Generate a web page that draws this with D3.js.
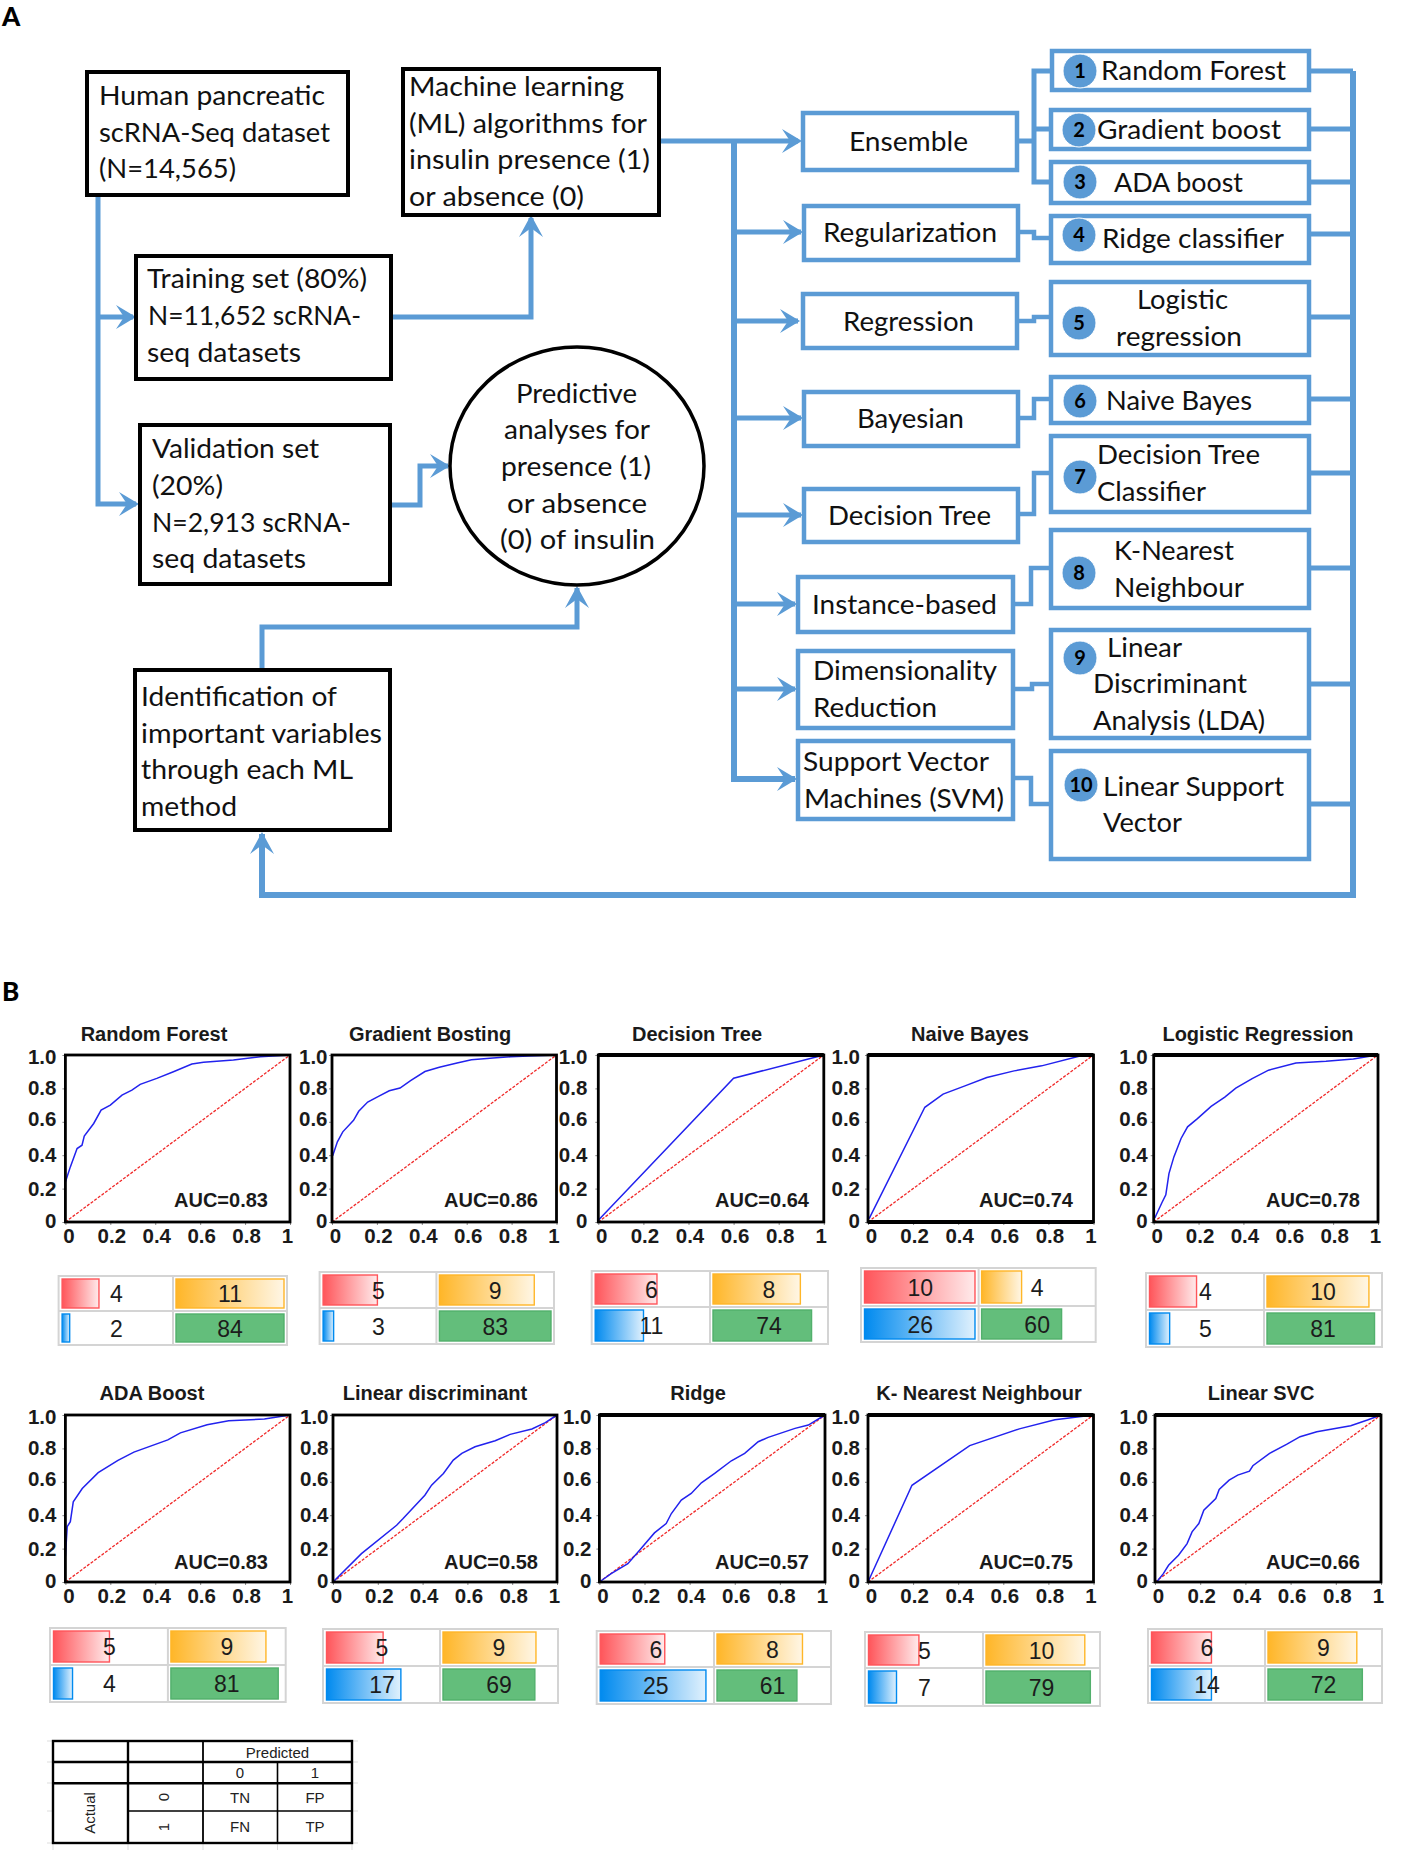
<!DOCTYPE html>
<html><head><meta charset="utf-8">
<style>html,body{margin:0;padding:0;background:#fff}svg{display:block}</style>
<script src="https://cdn.jsdelivr.net/npm/d3@7"></script></head>
<body><svg id="c" width="1418" height="1866"></svg>
<script>
// ---------- chart values ----------
const modelNames = ["Random Forest","Gradient Bosting","Decision Tree","Naive Bayes","Logistic Regression","ADA Boost","Linear discriminant","Ridge","K- Nearest Neighbour","Linear SVC"];
const aucValues = ["0.83","0.86","0.64","0.74","0.78","0.83","0.58","0.57","0.75","0.66"];
const axisXTicks = [0,0.2,0.4,0.6,0.8,1];
const axisYTicks = [0,0.2,0.4,0.6,0.8,1];
const rocRandomForest = [[0,.24],[.022,.33],[.052,.44],[.074,.46],[.084,.514],[.126,.59],[.159,.67],[.2,.7],[.252,.76],[.296,.79],[.333,.824],[.407,.86],[.481,.9],[.563,.946],[.615,.956],[.748,.97],[.867,.99],[1,1]];
const rocGradient = [[.003,.397],[.024,.48],[.048,.54],[.096,.609],[.119,.663],[.159,.718],[.207,.752],[.255,.786],[.303,.802],[.35,.847],[.414,.901],[.478,.927],[.557,.952],[.621,.972],[.717,.982],[.796,.99],[.876,.994],[1,1]];
const rocDecisionTree = [[0,.01],[.6,.861],[1,1]];
const rocNaiveBayes = [[.005,.02],[.252,.687],[.333,.766],[.43,.815],[.527,.865],[.648,.905],[.77,.935],[.94,.994],[1,1]];
const rocLogistic = [[.005,.024],[.037,.117],[.054,.163],[.068,.29],[.09,.39],[.122,.5],[.151,.57],[.195,.619],[.256,.692],[.317,.748],[.366,.802],[.439,.859],[.512,.909],[.634,.952],[.768,.962],[.89,.976],[.963,.992],[1,1]];
const rocAda = [[0,.153],[.008,.331],[.022,.361],[.035,.48],[.075,.56],[.146,.655],[.234,.728],[.305,.778],[.456,.851],[.512,.893],[.631,.942],[.727,.966],[.886,.976],[1,1]];
const rocLda = [[0,0],[.127,.17],[.284,.34],[.313,.38],[.41,.52],[.44,.58],[.493,.65],[.537,.73],[.575,.77],[.634,.81],[.724,.846],[.791,.884],[.888,.916],[.948,.954],[1,1]];
const rocRidge = [[0,0],[.052,.05],[.126,.11],[.178,.19],[.244,.294],[.296,.35],[.319,.41],[.363,.49],[.407,.53],[.452,.594],[.511,.65],[.585,.726],[.644,.77],[.704,.84],[.748,.866],[.867,.92],[.926,.94],[1,1]];
const rocKnn = [[0,0],[.195,.579],[.451,.817],[.671,.917],[.829,.972],[1,1]];
const rocSvc = [[.007,0],[.037,.05],[.06,.1],[.104,.16],[.142,.23],[.164,.3],[.194,.35],[.216,.43],[.269,.5],[.284,.554],[.328,.61],[.366,.64],[.418,.664],[.433,.696],[.507,.77],[.582,.824],[.642,.87],[.716,.9],[.866,.936],[.94,.97],[1,1]];
const rocCurves = [rocRandomForest,rocGradient,rocDecisionTree,rocNaiveBayes,rocLogistic,rocAda,rocLda,rocRidge,rocKnn,rocSvc];
const tnValues = [4,5,6,10,4,5,5,6,5,6];
const fpValues = [11,9,8,4,10,9,9,8,10,9];
const fnValues = [2,3,11,26,5,4,17,25,7,14];
const tpValues = [84,83,74,60,81,81,69,61,79,72];
// fill level of each data bar
const tnFill = [.34,.49,.55,.99,.42,.5,.51,.58,.45,.54];
const fpFill = [1,.85,.78,.36,.91,.85,.83,.77,.89,.80];
const fnFill = [.07,.095,.43,.99,.18,.17,.67,.95,.25,.54];
const tpFill = [1,1,.88,.72,.96,.96,.82,.72,.94,.85];

// ---------- layout ----------
const svg = d3.select("#c");
const BLUE="#5b9bd5", FLOW='Lato,"Noto Sans",sans-serif', ARIAL='"Liberation Sans",Arial,sans-serif';
const defs = svg.append("defs");
[["red","#ff555a"],["orange","#ffb628"],["blue","#008aef"]].forEach(([n,c])=>{
  const g=defs.append("linearGradient").attr("id","g-"+n);
  g.append("stop").attr("offset",0).attr("stop-color",c);
  g.append("stop").attr("offset",1).attr("stop-color",c).attr("stop-opacity",.12);
});
const flow = svg.append("g");
const blackBoxes=[[87,72,348,195],[403,69,659,215],[136,256,391,379],[140,425,390,584],[135,670,390,830]];
const blueBoxes=[[803,113,1017,170],[804,206,1018,260],[803,294,1017,348],[804,392,1018,446],[804,489,1018,542],[798,577,1013,632],[798,651,1013,728],[798,741,1013,819],
 [1052,51,1309,90],[1051,110,1309,149],[1051,162,1309,203],[1051,216,1309,263],[1051,282,1309,355],[1051,377,1309,423],[1051,436,1309,512],[1051,530,1309,608],[1051,630,1309,738],[1051,751,1309,859]];
const paths=[
 {p:[[98,195],[98,504],[136,504]],w:5},{p:[[98,317],[133,317]],w:5},
 {p:[[391,317],[531,317],[531,218]],w:5},{p:[[390,505],[420,505],[420,466],[448,466]],w:5},
 {p:[[262,670],[262,627],[577,627],[577,588]],w:5},
 {p:[[1353,71],[1353,895],[262,895],[262,834]],w:6},
 {p:[[659,141],[798,141]],w:5},{p:[[734,141],[734,779],[795,779]],w:6},
 {p:[[734,232],[801,232]],w:5},{p:[[734,321],[798,321]],w:5},{p:[[734,418],[801,418]],w:5},{p:[[734,515],[801,515]],w:5},{p:[[734,604],[795,604]],w:5},{p:[[734,689],[795,689]],w:5},
 {p:[[1017,141],[1034,141]],w:5},{p:[[1052,71],[1034,71],[1034,182],[1051,182]],w:5},{p:[[1034,129],[1051,129]],w:5},
 {p:[[1018,232],[1034,232],[1034,238],[1051,238]],w:4.5},{p:[[1017,321],[1034,321],[1034,317],[1051,317]],w:4.5},
 {p:[[1018,418],[1034,418],[1034,399],[1051,399]],w:4.5},{p:[[1018,514],[1034,514],[1034,473],[1051,473]],w:4.5},
 {p:[[1013,604],[1031,604],[1031,568],[1051,568]],w:4.5},{p:[[1013,689],[1032,689],[1032,684],[1051,684]],w:4.5},{p:[[1013,778],[1031,778],[1031,804],[1051,804]],w:4.5}
];
[71,129,182,234,317,399,473,568,684,804].forEach(y=>paths.push({p:[[1309,y],[1353,y]],w:5}));
paths.forEach(d=>flow.append("path").attr("d",d3.line()(d.p)).attr("fill","none").attr("stroke",BLUE).attr("stroke-width",d.w).attr("stroke-linejoin","miter"));
// arrow heads: [tipX, tipY, direction]
[[136,317,"r"],[139,504,"r"],[531,215,"u"],[450,466,"r"],[577,586,"u"],[262,832,"u"],[802,141,"r"],[803,232,"r"],[800,321,"r"],[803,418,"r"],[803,515,"r"],[797,604,"r"],[797,689,"r"],[797,779,"r"]]
 .forEach(([x,y,d])=>{
   const pts=d==="r"?[[x,y],[x-20,y-12],[x-12,y],[x-20,y+12]]:[[x,y],[x-12,y+22],[x,y+13],[x+12,y+22]];
   flow.append("polygon").attr("points",pts.join(" ")).attr("fill",BLUE);
 });
const rect=(sel,b,stroke,w)=>sel.append("rect").attr("x",b[0]).attr("y",b[1]).attr("width",b[2]-b[0]).attr("height",b[3]-b[1]).attr("fill","#fff").attr("stroke",stroke).attr("stroke-width",w);
blackBoxes.forEach(b=>rect(flow,b,"#000",4));
blueBoxes.forEach(b=>rect(flow,b,BLUE,4.5));
flow.append("ellipse").attr("cx",577).attr("cy",466).attr("rx",127).attr("ry",119).attr("fill","#fff").attr("stroke","#000").attr("stroke-width",3.5);
// badges
[[1080,71],[1079,130],[1080,182],[1079,235],[1079,323],[1080,401],[1080,477],[1079,573],[1080,658],[1081,785]].forEach(([x,y],i)=>{
  flow.append("ellipse").attr("cx",x).attr("cy",y).attr("rx",17).attr("ry",17).attr("fill",BLUE).attr("stroke","#fff").attr("stroke-width",1);
  flow.append("text").attr("x",x).attr("y",y+7).attr("text-anchor","middle").attr("font-family",FLOW).attr("font-weight",700).attr("font-size",20).attr("fill","#000").text(i+1);
});
// flow text lines: [string, left x, baseline y, measured width]
const flowText=[
 ["Human pancreatic",99,105,226],["scRNA-Seq dataset",99,142,231],["(N=14,565)",99,178,137],
 ["Machine learning",409,96,215],["(ML) algorithms for",409,133,238],["insulin presence (1)",409,169,241],["or absence (0)",409,206,175],
 ["Training set (80%)",147,288,220],["N=11,652 scRNA-",148,325,213],["seq datasets",147,362,154],
 ["Validation set",152,458,167],["(20%)",152,495,71],["N=2,913 scRNA-",152,532,199],["seq datasets",152,568,154],
 ["Predictive",516,403,121],["analyses for",504,439,146],["presence (1)",501,476,150],["or absence",507,513,140],["(0) of insulin",500,549,155],
 ["Identification of",141,706,196],["important variables",141,743,241],["through each ML",141,779,212],["method",141,816,96],
 ["Ensemble",849,151,119],["Regularization",823,242,174],["Regression",843,331,131],["Bayesian",857,428,107],["Decision Tree",828,525,163],["Instance-based",812,614,185],
 ["Dimensionality",813,680,184],["Reduction",813,717,124],["Support Vector",803,771,186],["Machines (SVM)",804,808,200],
 ["Random Forest",1101,80,185],["Gradient boost",1097,139,184],["ADA boost",1114,192,129],["Ridge classifier",1102,248,182],["Logistic",1137,309,91],["regression",1116,346,126],
 ["Naive Bayes",1106,410,146],["Decision Tree",1097,464,163],["Classifier",1097,501,109],["K-Nearest",1114,560,120],["Neighbour",1114,597,130],
 ["Linear",1107,657,75],["Discriminant",1093,693,154],["Analysis (LDA)",1093,730,172],["Linear Support",1103,796,181],["Vector",1103,832,79]
];
flow.selectAll("text.l").data(flowText).join("text").attr("class","l")
 .attr("x",d=>d[1]).attr("y",d=>d[2]).attr("textLength",d=>d[3]).attr("lengthAdjust","spacingAndGlyphs")
 .attr("font-family",FLOW).attr("font-size",26.5).attr("fill","#111").text(d=>d[0]);
[["A",2,26],["B",2,1001]].forEach(([t,x,y])=>svg.append("text").attr("x",x).attr("y",y).attr("font-family",FLOW).attr("font-weight",900).attr("font-size",26).attr("fill","#000").text(t));

// ---------- ROC panels ----------
const frames=[[65.4,290],[332,556.5],[598.3,823.8],[868,1093.5],[1153.7,1378],[65.4,290],[333,557],[599.4,825],[868,1093.5],[1155,1381]];
const yFrames=[[1055,1222],[1415,1582]];
const tickPad=[9,4.5,11,8,6,9,4.5,8,8,7];
const aucX=[174,444,715,979,1266,174,444,715,979,1266];
const titleX=[154,430,697,970,1258,152,435,698,979,1261];
const thickTop=[0,0,1,1,1,0,0,1,1,1];
const thickBottom=[0,0,0,1,0,0,0,0,0,0];
modelNames.forEach((name,i)=>{
  const row=i<5?0:1, [y1,y0]=yFrames[row], [x0,x1]=frames[i];
  const x=d3.scaleLinear().domain([0,1]).range([x0,x1]);
  const y=d3.scaleLinear().domain([0,1]).range([y0,y1]);
  const g=svg.append("g");
  g.append("text").attr("x",titleX[i]).attr("y",row?1400:1041).attr("text-anchor","middle").attr("font-family",ARIAL).attr("font-weight",700).attr("font-size",20).attr("fill","#1a1a1a").text(name);
  const styleAxis=a=>{a.select(".domain").remove();a.selectAll("line").attr("stroke","#888").attr("stroke-width",1);
    a.selectAll("text").attr("font-family",ARIAL).attr("font-weight",700).attr("font-size",20.5).attr("fill","#1a1a1a");};
  const ax=g.append("g").attr("transform",`translate(0,${y0})`).call(d3.axisBottom(x).tickValues(axisXTicks).tickSize(3).tickPadding(3).tickFormat(d=>d===0?"0":d===1?"1":d3.format(".1f")(d)));
  styleAxis(ax);
  ax.selectAll("text").attr("dx",d=>d===0?3:d===1?-3:1);
  const ay=g.append("g").attr("transform",`translate(${x0},0)`).call(d3.axisLeft(y).tickValues(axisYTicks).tickSize(3).tickPadding(tickPad[i]-3).tickFormat(d=>d===0?"0":d3.format(".1f")(d)));
  styleAxis(ay);
  ay.selectAll("text").attr("dy",d=>d===1?"0.42em":d===0.6?"0.18em":d===0?"0.25em":"0.32em");
  g.append("line").attr("x1",x(0)).attr("y1",y(0)).attr("x2",x(1)).attr("y2",y(1)).attr("stroke","#f02828").attr("stroke-width",1.3).attr("stroke-dasharray","3 1.5");
  g.append("path").attr("d",d3.line().x(d=>x(d[0])).y(d=>y(d[1]))(rocCurves[i])).attr("fill","none").attr("stroke","#2222ee").attr("stroke-width",1.5);
  g.append("rect").attr("x",x0).attr("y",y1).attr("width",x1-x0).attr("height",y0-y1).attr("fill","none").attr("stroke","#000").attr("stroke-width",2.8);
  if(thickTop[i]) g.append("line").attr("x1",x0).attr("x2",x1).attr("y1",y1).attr("y2",y1).attr("stroke","#000").attr("stroke-width",4);
  if(thickBottom[i]) g.append("line").attr("x1",x0).attr("x2",x1).attr("y1",y0).attr("y2",y0).attr("stroke","#000").attr("stroke-width",4);
  g.append("text").attr("x",aucX[i]).attr("y",row?1569:1207).attr("font-family",ARIAL).attr("font-weight",700).attr("font-size",20).attr("fill","#1a1a1a").text("AUC="+aucValues[i]);
});

// ---------- confusion tables: [x0,x1,y0,y1,divX,divY] ----------
const tables=[[58.6,287,1276,1345,173,1311],[319.6,554,1272,1344,436.4,1308],[591.7,828,1271,1344,710,1307],[861,1095.7,1268,1342,978.6,1306],[1146,1382,1273,1347,1264,1310],
 [50,285.7,1628,1702,167.9,1665],[323,558,1629,1703,440,1666],[596.7,831,1631,1704,714,1667],[865,1100,1632,1706,983,1668],[1148,1382,1629,1703,1265,1666]];
tables.forEach((t,i)=>{
  const [X0,X1,Y0,Y1,DX,DY]=t, g=svg.append("g");
  g.append("rect").attr("x",X0).attr("y",Y0).attr("width",X1-X0).attr("height",Y1-Y0).attr("fill","#fff").attr("stroke","#d4d4d4").attr("stroke-width",2);
  g.append("line").attr("x1",DX).attr("x2",DX).attr("y1",Y0).attr("y2",Y1).attr("stroke","#d4d4d4").attr("stroke-width",2);
  g.append("line").attr("x1",X0).attr("x2",X1).attr("y1",DY).attr("y2",DY).attr("stroke","#d4d4d4").attr("stroke-width",2);
  const bar=(x0,x1,y0,y1,v,f,fill,stroke)=>{
    const s=d3.scaleLinear().domain([0,1]).range([x0,x1]);
    g.append("rect").attr("x",x0).attr("y",y0).attr("width",s(f)-x0).attr("height",y1-y0).attr("fill",fill).attr("stroke",stroke).attr("stroke-width",1.4);
    g.append("text").attr("x",(x0+x1)/2).attr("y",(y0+y1)/2+8.5).attr("text-anchor","middle").attr("font-family",ARIAL).attr("font-size",23).attr("fill","#1c1c1c").text(v);
  };
  const l0=X0+3.5,l1=DX-2.5,r0=DX+3,r1=X1-3;
  bar(l0,l1,Y0+3,DY-3,tnValues[i],tnFill[i],"url(#g-red)","#ff555a");
  bar(r0,r1,Y0+3,DY-3,fpValues[i],fpFill[i],"url(#g-orange)","#ffb628");
  bar(l0,l1,DY+3,Y1-3,fnValues[i],fnFill[i],"url(#g-blue)","#008aef");
  bar(r0,r1,DY+3,Y1-3,tpValues[i],tpFill[i],"#63be7b","#52b06c");
});

// ---------- key table ----------
const key=svg.append("g");
const ln=(a,b,c,d,w)=>key.append("line").attr("x1",a).attr("y1",b).attr("x2",c).attr("y2",d).attr("stroke","#000").attr("stroke-width",w);
[128,203,277.5,352,53].forEach(x=>{key.append("line").attr("x1",x).attr("x2",x).attr("y1",1844).attr("y2",1850).attr("stroke","#ddd");});
[1741,1762,1783,1811,1843].forEach(y=>{key.append("line").attr("x1",47).attr("x2",53).attr("y1",y).attr("y2",y).attr("stroke","#ddd");key.append("line").attr("x1",352).attr("x2",358).attr("y1",y).attr("y2",y).attr("stroke","#ddd");});
key.append("rect").attr("x",53).attr("y",1741).attr("width",299).attr("height",102).attr("fill","none").attr("stroke","#000").attr("stroke-width",2.4);
ln(53,1762,352,1762,2.4);ln(53,1783.3,352,1783.3,2.4);ln(128,1741,128,1843,2.4);ln(203,1741,203,1843,1.8);ln(277.5,1762,277.5,1843,1.6);ln(128,1811,352,1811,1.6);
const kt=(s,x,y,rot)=>{const t=key.append("text").attr("text-anchor","middle").attr("font-family",ARIAL).attr("font-size",15).attr("fill","#222").text(s);
  if(rot) t.attr("transform",`translate(${x},${y}) rotate(-90)`).attr("dy","0.35em"); else t.attr("x",x).attr("y",y);};
kt("Predicted",277.5,1758);kt("0",240,1778);kt("1",315,1778);kt("TN",240,1803);kt("FP",315,1803);kt("FN",240,1832);kt("TP",315,1832);
kt("0",164,1797,1);kt("1",164,1827,1);kt("Actual",90,1813,1);
</script></body></html>
